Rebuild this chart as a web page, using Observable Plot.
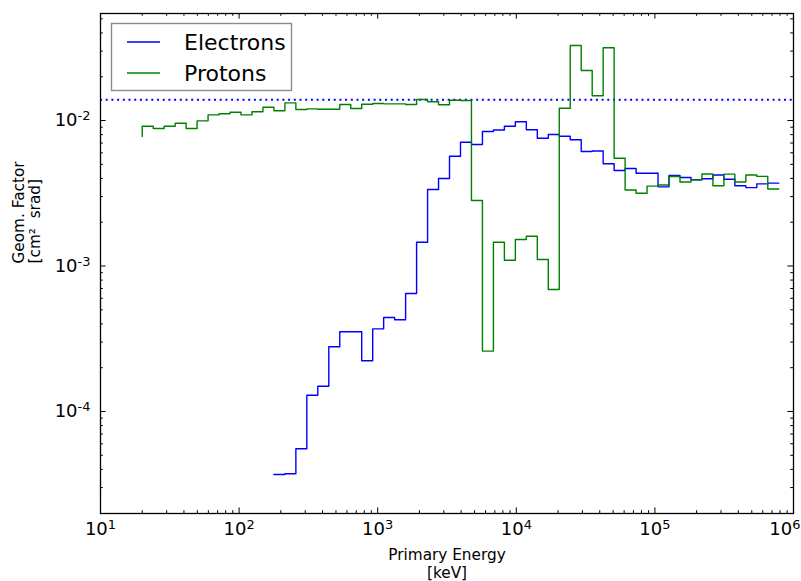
<!DOCTYPE html>
<html><head><meta charset="utf-8">
<script src="https://cdn.jsdelivr.net/npm/d3@7"></script>
<script src="https://cdn.jsdelivr.net/npm/@observablehq/plot@0.6"></script>
<style>
body{margin:0;background:#fff;}
#chart{position:absolute;left:0;top:0;}
</style>
</head><body><div id="chart"></div>
<script>
// Bin edges (keV)
const edges = [20, 24, 28.8, 34.56, 41.47, 49.77, 59.72, 71.66, 86.0, 103.2,
  123.8, 148.6, 178.3, 214.0, 256.8, 308.1, 369.8, 443.7, 532.5, 639.0,
  766.8, 920.1, 1104, 1325, 1590, 1908, 2290, 2748, 3297, 3957,
  4748, 5698, 6837, 8205, 9846, 11815, 14178, 17014, 20417, 24500,
  29400, 35280, 42336, 50803, 60964, 73157, 87788, 105346, 126415, 151698,
  182038, 218445, 262134, 314561, 377473, 452968, 543561, 652274, 782728];

// Protons: value at the first edge, then one value per bin
const protonStart = 0.00776;
const protonValues = [
  0.00914, 0.00881, 0.00914, 0.00958, 0.00881, 0.00995, 0.01094, 0.01112, 0.01141, 0.01094,
  0.01148, 0.01234, 0.01166, 0.01323, 0.01190, 0.01203, 0.01196, 0.01196, 0.01288, 0.01209,
  0.01294, 0.01309, 0.01302, 0.01302, 0.01288, 0.01394, 0.01345, 0.01282, 0.01379, 0.01372,
  0.00282, 0.000260, 0.001458, 0.001096, 0.001521, 0.001602, 0.001108, 0.000690, 0.01215, 0.03276,
  0.02206, 0.01479, 0.03160, 0.00551, 0.00333, 0.00316, 0.00354, 0.00360, 0.00412, 0.00378,
  0.00391, 0.00429, 0.00356, 0.00428, 0.00378, 0.00422, 0.00413, 0.00338];

// Electrons start at edge 12
const electronStartIndex = 12;
const electronStart = 3.69e-5;
const electronValues = [
  3.69e-5, 3.73e-5, 5.54e-5, 1.294e-4, 1.492e-4, 2.785e-4, 3.53e-4, 3.53e-4, 2.23e-4, 3.70e-4,
  4.43e-4, 4.27e-4, 6.47e-4, 1.458e-3, 3.356e-3, 3.995e-3, 5.68e-3, 7.09e-3, 6.84e-3, 8.40e-3,
  8.60e-3, 9.14e-3, 9.80e-3, 8.64e-3, 7.56e-3, 8.01e-3, 7.80e-3, 7.37e-3, 6.12e-3, 6.17e-3,
  5.04e-3, 4.53e-3, 4.68e-3, 4.34e-3, 4.34e-3, 3.50e-3, 4.19e-3, 4.06e-3, 3.92e-3, 3.98e-3,
  4.22e-3, 3.95e-3, 3.56e-3, 3.46e-3, 3.67e-3, 3.71e-3];

const referenceLevel = 0.0139;

const seriesNames = ["Electrons", "Protons"];
const seriesColors = ["#0000ff", "#008000"];

const xMajorTicks = [10, 100, 1000, 1e4, 1e5, 1e6];
const xTickLabels = ["10¹", "10²", "10³", "10⁴", "10⁵", "10⁶"];
const yMajorTicks = [1e-4, 1e-3, 1e-2];
const yTickLabels = ["10⁻⁴", "10⁻³", "10⁻²"];
const minorMultipliers = [2, 3, 4, 5, 6, 7, 8, 9];

const xMinorTicks = [10, 100, 1000, 1e4, 1e5].flatMap(d => minorMultipliers.map(m => d * m));
const yMinorTicks = [1e-5, 1e-4, 1e-3, 1e-2].flatMap(d => minorMultipliers.map(m => d * m))
  .filter(v => v > 2.0e-5 && v < 0.054);

const rows = [];
edges.slice(electronStartIndex).forEach((e, i) =>
  rows.push({series: "Electrons", energy: e, g: i === 0 ? electronStart : electronValues[i - 1]}));
edges.forEach((e, i) =>
  rows.push({series: "Protons", energy: e, g: i === 0 ? protonStart : protonValues[i - 1]}));

const W = 801, H = 581;
const mL = 100, mR = 8, mT = 13, mB = 68;
const pw = W - mL - mR, ph = H - mT - mB;
const majLen = 5.6, minLen = 2.8;
const tickStyle = {stroke: "black", strokeWidth: 1};
const lastX = xMajorTicks.length - 1;
const tickFont = 18;

const plot = Plot.plot({
  width: W, height: H,
  marginLeft: mL, marginRight: mR, marginTop: mT, marginBottom: mB,
  style: {fontFamily: "DejaVu Sans", background: "white", color: "black"},
  x: {type: "log", domain: [10, 1e6], axis: null},
  y: {type: "log", domain: [1.99e-5, 0.0544], axis: null},
  color: {domain: seriesNames, range: seriesColors},
  marks: [
    Plot.ruleY([referenceLevel], {stroke: "#0000ff", strokeWidth: 2, strokeDasharray: "2,3.7"}),
    Plot.line(rows, {x: "energy", y: "g", z: "series", stroke: "series", strokeWidth: 1.4, curve: "step-before"}),
    // ticks (inward, all four sides)
    Plot.tickX(xMajorTicks, {x: d => d, insetTop: ph - majLen, ...tickStyle}),
    Plot.tickX(xMajorTicks, {x: d => d, insetBottom: ph - majLen, ...tickStyle}),
    Plot.tickX(xMinorTicks, {x: d => d, insetTop: ph - minLen, ...tickStyle}),
    Plot.tickX(xMinorTicks, {x: d => d, insetBottom: ph - minLen, ...tickStyle}),
    Plot.tickY(yMajorTicks, {y: d => d, insetRight: pw - majLen, ...tickStyle}),
    Plot.tickY(yMajorTicks, {y: d => d, insetLeft: pw - majLen, ...tickStyle}),
    Plot.tickY(yMinorTicks, {y: d => d, insetRight: pw - minLen, ...tickStyle}),
    Plot.tickY(yMinorTicks, {y: d => d, insetLeft: pw - minLen, ...tickStyle}),
    Plot.frame({stroke: "black", strokeWidth: 1.3}),
    // tick labels
    Plot.text(xMajorTicks.slice(0, lastX), {x: d => d, frameAnchor: "bottom", dy: 21, text: (d, i) => xTickLabels[i], fontSize: tickFont}),
    Plot.text(xMajorTicks.slice(lastX), {x: d => d, frameAnchor: "bottom", dy: 21, dx: 7, textAnchor: "end", text: () => xTickLabels[lastX], fontSize: tickFont}),
    Plot.text(yMajorTicks, {y: d => d, frameAnchor: "left", dx: -10, textAnchor: "end", text: (d, i) => yTickLabels[i], fontSize: tickFont}),
    // axis labels
    Plot.text(["Primary Energy"], {frameAnchor: "bottom", dy: 46, fontSize: 15.3}),
    Plot.text(["[keV]"], {frameAnchor: "bottom", dy: 64, fontSize: 15.3}),
    Plot.text(["Geom. Factor"], {frameAnchor: "left", dx: -81.5, rotate: -90, fontSize: 15.3}),
    Plot.text(["[cm²  srad]"], {frameAnchor: "left", dx: -65, rotate: -90, fontSize: 15.3})
  ]
});

// Render tick-label exponents as raised, smaller text
const supMap = {"⁻": "-", "¹": "1", "²": "2", "³": "3", "⁴": "4", "⁵": "5", "⁶": "6"};
const tickLabelSet = new Set([...xTickLabels, ...yTickLabels]);
d3.select(plot).selectAll("text").each(function() {
  const t = this.textContent;
  if (!tickLabelSet.has(t)) return;
  const exp = Array.from(t.slice(2)).map(c => supMap[c]).join("");
  const sel = d3.select(this);
  sel.text(null);
  sel.append("tspan").text("10");
  sel.append("tspan").attr("dy", "-0.45em").attr("font-size", "72%").text(exp);
});

// Legend
const svg = d3.select(plot);
const lg = svg.append("g").attr("font-family", "DejaVu Sans").attr("text-anchor", "start");
lg.append("rect").attr("x", 111.5).attr("y", 23.5).attr("width", 180).attr("height", 67)
  .attr("fill", "white").attr("stroke", "#8c8c8c").attr("stroke-width", 1.4);
seriesNames.forEach((name, i) => {
  const cy = 42 + i * 31;
  lg.append("line").attr("x1", 127).attr("x2", 160).attr("y1", cy).attr("y2", cy)
    .attr("stroke", seriesColors[i]).attr("stroke-width", 1.4);
  lg.append("text").attr("x", 184).attr("y", cy).attr("dy", "0.36em")
    .attr("font-size", 22).attr("fill", "black").attr("text-anchor", "start").text(name);
});

document.getElementById("chart").appendChild(plot);
</script>
</body></html>
